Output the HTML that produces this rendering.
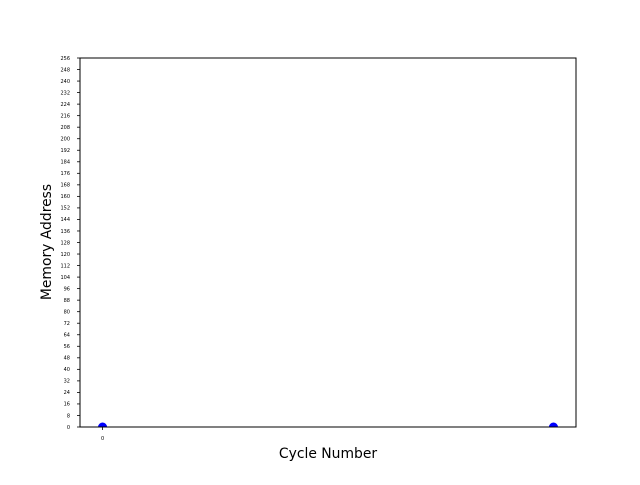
<!DOCTYPE html>
<html><head><meta charset="utf-8"><style>
body{margin:0;background:#fff}
svg text{font-family:"DejaVu Sans","Liberation Sans",sans-serif}
</style></head><body>
<svg id="chart" width="640" height="480">
<defs><clipPath id="clip"><rect x="80" y="58" width="496" height="369"/></clipPath></defs>
<rect x="0" y="0" width="640" height="480" fill="#fff"/>
<g id="yticks"></g><g id="xticks"></g>
<g id="pts" clip-path="url(#clip)"></g>
<rect x="80" y="58" width="496" height="369" fill="none" stroke="#000" stroke-width="1"/>
<text x="328" y="458" font-size="13.9" text-anchor="middle">Cycle Number</text>
<text transform="translate(51,242) rotate(-90)" font-size="13.9" text-anchor="middle">Memory Address</text>
</svg>
<script>
const cycles=[0,1];
const addresses=[0,0];
const xTickValues=[0];
const yTickValues=[];for(let v=0;v<=256;v+=8)yTickValues.push(v);
const L=80,R=576,T=58,B=427,NS='http://www.w3.org/2000/svg';
const xMin=-0.05,xMax=1.05,yMin=0,yMax=256;
const xs=v=>L+(v-xMin)/(xMax-xMin)*(R-L);
const ys=v=>B-(v-yMin)/(yMax-yMin)*(B-T);
function mk(t,a,p){const e=document.createElementNS(NS,t);for(const k in a)e.setAttribute(k,a[k]);p.appendChild(e);return e;}
const yg=document.getElementById('yticks');
yTickValues.forEach(v=>{const y=ys(v);
const l=mk('line',{x1:L-3,x2:L,y1:y,y2:y,stroke:'#000','stroke-width':0.8},yg);


const t=mk('text',{x:L-10,y:y+1.8,'font-size':5,'text-anchor':'end'},yg);t.textContent=v;

});
const xg=document.getElementById('xticks');
xTickValues.forEach(v=>{const x=xs(v);
const l=mk('line',{x1:x,x2:x,y1:B,y2:B+3,stroke:'#000','stroke-width':0.8},xg);


const t=mk('text',{x:x,y:B+13,'font-size':5,'text-anchor':'middle'},xg);t.textContent=v;

});
const pg=document.getElementById('pts');
cycles.forEach((c,i)=>{const p=mk('circle',{cx:xs(c),cy:ys(addresses[i]),r:4.5,fill:'#0000ff'},pg);

});
</script>
</body></html>
